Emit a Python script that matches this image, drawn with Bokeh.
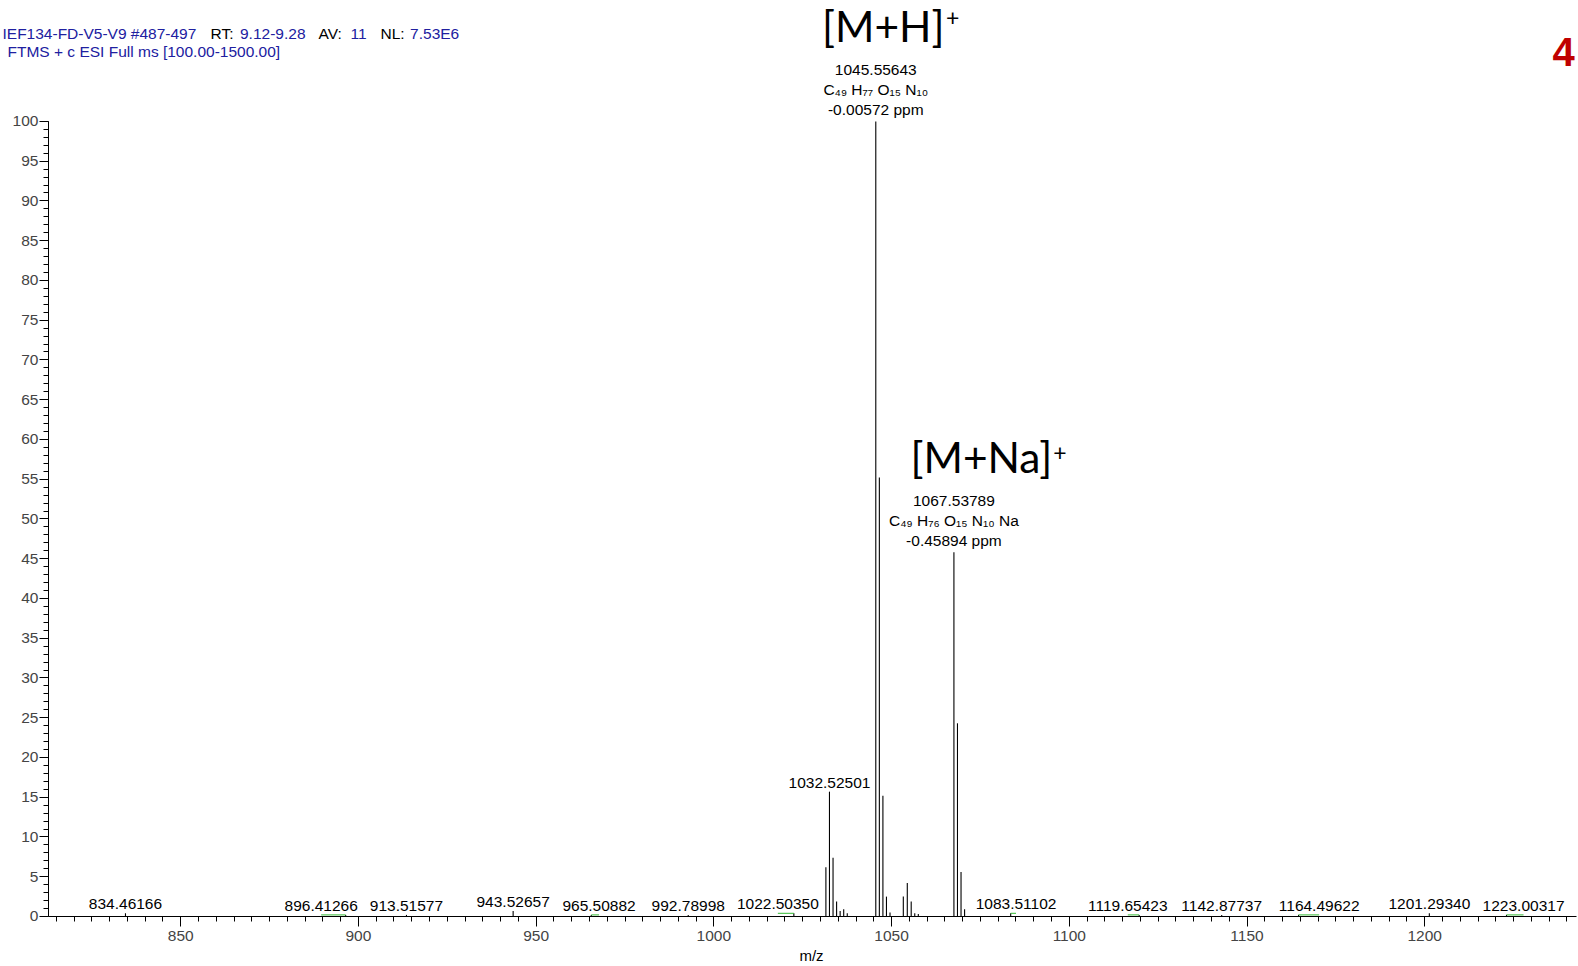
from bokeh.plotting import figure
from bokeh.models import Range1d, SingleIntervalTicker, Label, ColumnDataSource
from bokeh.core.properties import value
from bokeh.embed import file_html
from bokeh.resources import INLINE

# ---------------- data ----------------
# isotope clusters around the main ions (m/z, relative abundance %)
cluster_mz = [1031.52, 1032.52501, 1033.53, 1034.53, 1035.53, 1036.53, 1037.53,
              1045.55643, 1046.56, 1047.56, 1048.56, 1049.56,
              1053.30, 1054.42, 1055.52, 1056.52, 1057.52,
              1067.53789, 1068.54, 1069.54, 1070.54]
cluster_int = [6.2, 15.7, 7.4, 1.9, 0.7, 0.9, 0.4,
               100.0, 55.2, 15.2, 2.5, 0.5,
               2.5, 4.2, 1.9, 0.4, 0.3,
               45.8, 24.3, 5.6, 0.9]

# small labelled peaks along the baseline
minor_mz = [834.46166, 896.41266, 913.51577, 943.52657, 965.50882, 992.78998,
            1022.50350, 1083.51102, 1119.65423, 1142.87737, 1164.49622,
            1201.29340, 1223.00317]
minor_int = [0.4, 0.2, 0.2, 0.7, 0.2, 0.2, 0.4, 0.4, 0.2, 0.2, 0.2, 0.4, 0.2]
# horizontal displacement of the label from its peak (m/z units)
minor_shift = [0.0, -6.9, 0.0, 0.0, 2.2, 0.0, -4.5, 1.5, -3.2, 0.0, 5.8, 0.0, 4.8]

# annotated main ions
ion_mz = [1045.55643, 1067.53789]
ion_int = [100.0, 45.8]
ion_formula = ["C\u2084\u2089 H\u2087\u2087 O\u2081\u2085 N\u2081\u2080",
               "C\u2084\u2089 H\u2087\u2086 O\u2081\u2085 N\u2081\u2080 Na"]
ion_ppm = ["-0.00572 ppm", "-0.45894 ppm"]
ion_name = ["[M+H]", "[M+Na]"]

x_axis_span = (812.8, 1242.7)
x_view = (799.3, 1243.26)
y_view = (-6.29, 115.21)
y_axis_span = (0, 100)
x_ticks_interval = 50
y_ticks_interval = 5

header_blue = "#2020a0"
FONT = "Liberation Sans"

# ---------------- figure ----------------
W, H = 1578, 966
p = figure(width=W, height=H,
           x_range=Range1d(*x_view), y_range=Range1d(*y_view),
           output_backend="svg", toolbar_location=None,
           min_border_left=0, min_border_right=0,
           min_border_top=0, min_border_bottom=0)
p.outline_line_color = None
p.xgrid.visible = False
p.ygrid.visible = False
p.background_fill_color = "white"

# spectrum sticks
all_mz = cluster_mz + minor_mz
all_int = cluster_int + minor_int
p.segment(x0=all_mz, y0=[0] * len(all_mz), x1=all_mz, y1=all_int,
          line_color="black", line_width=1.1)

# green connectors for displaced labels
con_x0, con_x1, con_y = [], [], []
for m, h, s in zip(minor_mz, minor_int, minor_shift):
    if s != 0:
        con_x0.append(m + s)
        con_x1.append(m)
        con_y.append(h)
p.segment(x0=con_x0, y0=con_y, x1=con_x1, y1=con_y,
          line_color="#33bb33", line_width=1)

# peak labels
lx, ly, lt, ldy = [], [], [], []
for m, h, s in zip(minor_mz, minor_int, minor_shift):
    lx.append(m + s); ly.append(h); lt.append(f"{m:.5f}"); ldy.append(-9)
lx.append(cluster_mz[1]); ly.append(cluster_int[1]); lt.append(f"{cluster_mz[1]:.5f}"); ldy.append(-9)
for m, h, f, ppm in zip(ion_mz, ion_int, ion_formula, ion_ppm):
    for txt, dy in ((f"{m:.5f}", -51.0), (f, -31.5), (ppm, -11.8)):
        lx.append(m); ly.append(h); lt.append(txt); ldy.append(dy)
lsrc = ColumnDataSource(dict(x=lx, y=ly, text=lt, dy=ldy))
p.text(x="x", y="y", text="text", y_offset="dy", source=lsrc,
       text_align="center", text_baseline="middle",
       text_font=value(FONT), text_font_size="15.5px", text_color="black")

# big ion annotations
ion_dx = [7.5, 27.4]
ion_dy = [-95.5, -95.5]
plus_dx = [77.0, 106.0]
plus_dy = [-104.0, -100.0]
isrc = ColumnDataSource(dict(x=ion_mz, y=ion_int, text=ion_name, dx=ion_dx, dy=ion_dy))
p.text(x="x", y="y", text="text", x_offset="dx", y_offset="dy", source=isrc,
       text_align="center", text_baseline="alphabetic",
       text_font=value("Lato"), text_font_size="42.5px", text_color="black")
psrc = ColumnDataSource(dict(x=ion_mz, y=ion_int, text=["+", "+"], dx=plus_dx, dy=plus_dy))
p.text(x="x", y="y", text="text", x_offset="dx", y_offset="dy", source=psrc,
       text_align="center", text_baseline="alphabetic",
       text_font=value("Lato"), text_font_size="23px", text_color="black")

# ---------------- axes (pinned at m/z start and intensity 0) ----------------
xa = p.xaxis[0]
xa.fixed_location = 0
xa.ticker = SingleIntervalTicker(interval=x_ticks_interval, num_minor_ticks=10)
xa.bounds = x_axis_span
xa.major_label_text_font = FONT
xa.major_label_text_font_size = "15.5px"
xa.major_label_standoff = 5
xa.major_tick_out = 10
xa.major_tick_in = 0
xa.minor_tick_out = 5
xa.minor_tick_in = 0
xa.axis_line_color = "black"

ya = p.yaxis[0]
ya.fixed_location = x_axis_span[0]
ya.ticker = SingleIntervalTicker(interval=y_ticks_interval, num_minor_ticks=5)
ya.bounds = y_axis_span
ya.major_label_text_font = FONT
ya.major_label_text_font_size = "15.5px"
ya.major_label_standoff = 1
ya.major_tick_out = 9
ya.major_tick_in = 0
ya.minor_tick_out = 5
ya.minor_tick_in = 0
ya.axis_line_color = "black"

# ---------------- texts in screen units (frame = whole canvas) ----------------
def hdr(txt, left, ymid, color, size="15.5px", style="normal", align="left"):
    p.add_layout(Label(x=left, y=H - ymid, x_units="screen", y_units="screen",
                       text=txt, text_font=FONT, text_font_size=size, text_color=color,
                       text_font_style=style, text_align=align, text_baseline="middle",
                       level="overlay"))

hdr("IEF134-FD-V5-V9 #487-497", 2, 33.2, header_blue)
hdr("RT:", 210, 33.2, "black")
hdr("9.12-9.28", 239.5, 33.2, header_blue)
hdr("AV:", 318, 33.2, "black")
hdr("11", 350, 33.2, header_blue)
hdr("NL:", 380, 33.2, "black")
hdr("7.53E6", 409.6, 33.2, header_blue)
hdr("FTMS + c ESI Full ms [100.00-1500.00]", 7, 51.3, header_blue)
hdr("4", 1552, 51, "#c00000", size="40px", style="bold")
# x-axis title
hdr("m/z", 811, 955, "black", size="15px", align="center")

open("out.html", "w").write(file_html(p, INLINE))
